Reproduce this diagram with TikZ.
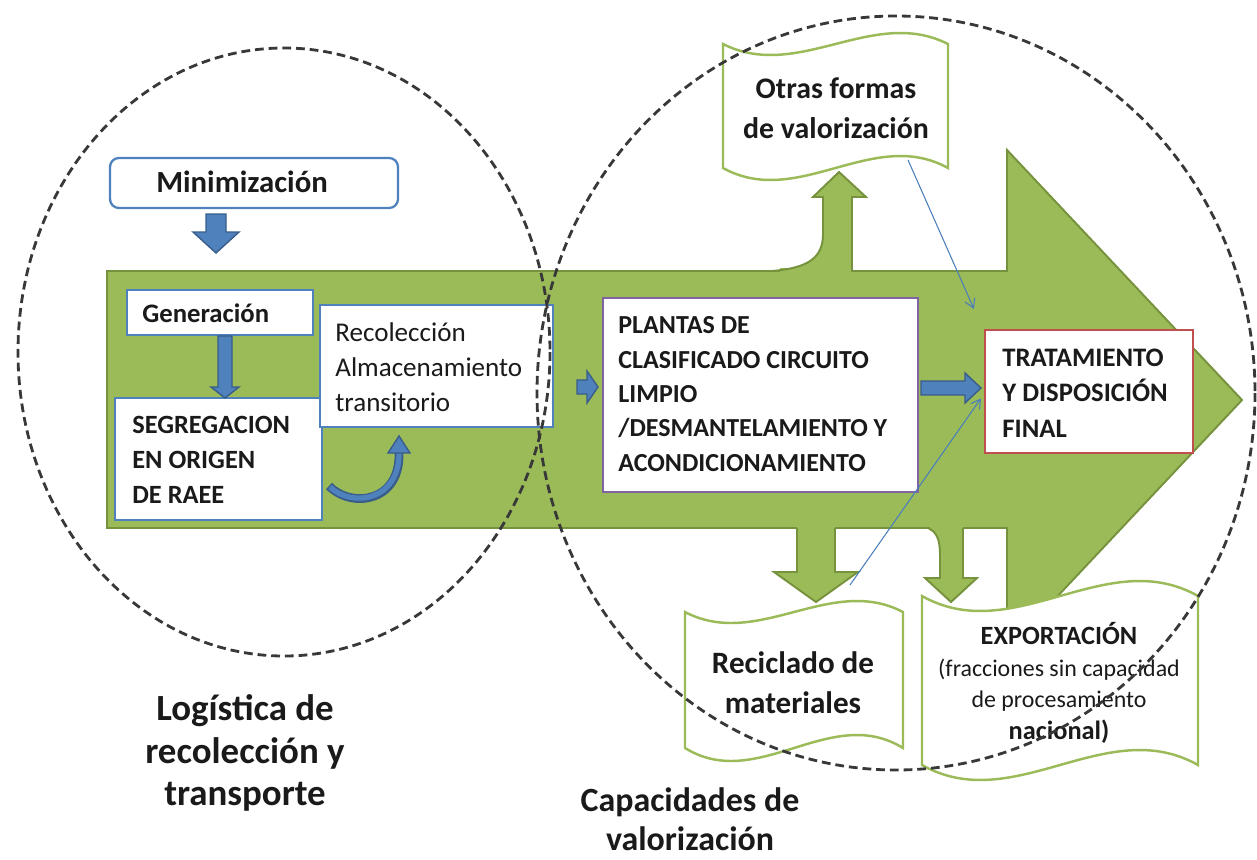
\documentclass[tikz,border=0pt]{standalone}
\usepackage{fontspec}
\setmainfont{Carlito}
\usetikzlibrary{arrows.meta,calc}
\definecolor{grn}{HTML}{9BBB59}
\definecolor{grnd}{HTML}{76923C}
\definecolor{blu}{HTML}{4F81BD}
\definecolor{blud}{HTML}{385D8A}
\definecolor{purp}{HTML}{8064A2}
\definecolor{redb}{HTML}{C0504D}
\definecolor{dashc}{HTML}{383838}
\definecolor{thinb}{HTML}{4A7EBB}
\definecolor{txtc}{HTML}{1A1A1A}
\newcommand\scrollshape[6]{%
  \filldraw[scrollst] (#1,#3) .. controls ({#1+(#2-#1)/3},{#3+3.46*#4}) and ({#1+2*(#2-#1)/3},{#3-3.46*#4}) .. (#2,#3) -- (#2,#5) .. controls ({#1+2*(#2-#1)/3},{#5-3.46*#6}) and ({#1+(#2-#1)/3},{#5+3.46*#6}) .. (#1,#5) -- cycle;}
\newcommand\rblock[6]{\filldraw[bluearrow] (#1,{#4-#5}) -- (#2,{#4-#5}) -- (#2,{#4-#6}) -- (#3,#4) -- (#2,{#4+#6}) -- (#2,{#4+#5}) -- (#1,{#4+#5}) -- cycle;}
\newcommand\dblock[6]{\filldraw[bluearrow] ({#1-#5},#2) -- ({#1-#5},#3) -- ({#1-#6},#3) -- (#1,#4) -- ({#1+#6},#3) -- ({#1+#5},#3) -- ({#1+#5},#2) -- cycle;}
\newcommand\gdown[6]{%
  \fill[grn] ({#1-#5},{#2-3}) rectangle ({#1+#5},{#2+3});
  \filldraw[garrow] ({#1-#5},#2) -- ({#1-#5},#3) -- ({#1-#6},#3) -- (#1,#4) -- ({#1+#6},#3) -- ({#1+#5},#3) -- ({#1+#5},#2);}
\tikzset{
  garrow/.style={fill=grn, draw=grnd, line width=1.1pt, line join=miter},
  bluearrow/.style={fill=blu, draw=blud, line width=0.8pt, line join=miter},
  scrollst/.style={fill=white, draw=grn, line width=1.4pt},
  boxst/.style={fill=white, line width=1.3pt, inner sep=0pt},
  circ/.style={draw=dashc, line width=1.6pt, dash pattern=on 5pt off 2.8pt},
  thinar/.style={draw=thinb, line width=0.6pt, -{Straight Barb[length=5pt,width=6pt]}},
  txt/.style={inner sep=0pt, align=left, text=txtc},
  ctxt/.style={inner sep=0pt, align=center, text=txtc}
}
\begin{document}
\begin{tikzpicture}[x=0.02cm,y=-0.02cm]
\useasboundingbox (0,0) rectangle (1257,859);

% big green arrow
\filldraw[garrow] (107,271) -- (1007,271) -- (1007,150) -- (1242,400) -- (1007,650) -- (1007,528) -- (107,528) -- cycle;

% green side arrows
\fill[grn] (780,268) rectangle (851,274);
\filldraw[garrow] (772,271) .. controls (808,268) and (823,258) .. (823,234) -- (823,197) -- (813,197) -- (839,172) -- (866,197) -- (852,197) -- (852,271);
\gdown{816}{528}{572}{602}{19}{42}
\fill[grn] (930,525) rectangle (963,531);
\filldraw[garrow] (928,528) .. controls (937,532) and (940,540) .. (940,555) -- (940,578) -- (925,578) -- (951,602) -- (977,578) -- (963,578) -- (963,528);

% boxes
\node[boxst, draw=blu, rounded corners=5pt, minimum width=5.76cm, minimum height=1cm] (mini) at (254,183) {};
\node[boxst, draw=blu, minimum width=3.72cm, minimum height=0.9cm] (gen) at (220,312.5) {};
\node[boxst, draw=blu, minimum width=4.14cm, minimum height=2.44cm] (seg) at (218.5,459) {};
\node[boxst, draw=blu, minimum width=4.66cm, minimum height=2.44cm] (rec) at (436.5,366) {};
\node[boxst, draw=purp, minimum width=6.3cm, minimum height=3.88cm] (pla) at (760.5,395) {};
\node[boxst, draw=redb, minimum width=4.16cm, minimum height=2.46cm] (tra) at (1089,391.5) {};

% blue arrows
\dblock{216}{214}{232}{253}{10}{23}
\dblock{225}{336}{387}{398}{7}{14}
\rblock{577}{587}{598}{387}{7}{16}
\rblock{921}{965}{981}{388}{7}{15}
\draw[blud, line width=5pt] (329,486) .. controls (352,509) and (401,502) .. (399,452);
\draw[blu, line width=3pt] (330,487) .. controls (352,508) and (400,501) .. (399,452);
\filldraw[bluearrow] (399,436) -- (410,453) -- (388,453) -- cycle;

% scrolls
\scrollshape{723}{948}{44}{11}{168}{12}
\scrollshape{685}{903}{612}{11}{748}{13}
\scrollshape{922}{1198}{596}{15}{765}{15}

% texts
\node[ctxt, font=\bfseries\fontsize{17.5}{21}\selectfont] (miniT) at (242,182) {Minimización};
\node[txt, anchor=west, font=\bfseries\fontsize{15.2}{19.8}\selectfont] (genT) at (142,313) {Generación};
\node[txt, anchor=west, font=\bfseries\fontsize{15}{19.8}\selectfont] (segT) at (132,460) {SEGREGACION\\EN ORIGEN\\DE RAEE};
\node[txt, anchor=west, font=\fontsize{15.4}{19.8}\selectfont] (recT) at (335,367) {Recolección\\Almacenamiento\\transitorio};
\node[txt, anchor=west, font=\bfseries\fontsize{14.8}{19.6}\selectfont] (plaT) at (618,394) {PLANTAS DE\\CLASIFICADO CIRCUITO\\LIMPIO\\/DESMANTELAMIENTO Y\\ACONDICIONAMIENTO};
\node[txt, anchor=west, font=\bfseries\fontsize{15.2}{20.2}\selectfont] (traT) at (1002,393) {TRATAMIENTO\\Y DISPOSICIÓN\\FINAL};
\node[ctxt, font=\bfseries\fontsize{17}{22.7}\selectfont] (otrT) at (836,108) {Otras formas\\de valorización};
\node[ctxt, font=\bfseries\fontsize{17.7}{22.7}\selectfont] (recicT) at (793,683) {Reciclado de\\materiales};
\node[ctxt, font=\fontsize{13.6}{18}\selectfont] (expT) at (1059,683) {{\bfseries\fontsize{15}{18}\selectfont EXPORTACIÓN}\\(fracciones sin capacidad\\de procesamiento\\{\bfseries\fontsize{15}{18}\selectfont nacional)}};
\node[ctxt, font=\bfseries\fontsize{21}{24}\selectfont] (logT) at (245,753) {Logística de\\recolección y\\transporte};
\node[ctxt, font=\bfseries\fontsize{19.3}{22.5}\selectfont] (capT) at (690,819) {Capacidades de\\valorización};

% thin connectors
\coordinate (o1) at (908,160);
\coordinate (t1) at ($(tra.north west)+(-10,-20)$);
\draw[thinar] (o1) -- (t1);
\coordinate (r1) at (850,585);
\coordinate (t2) at ($(tra.west)+(-3,7)$);
\draw[thinar] (r1) -- (t2);

% dashed circles
\draw[circ] (284,352) ellipse [x radius=266, y radius=304];
\draw[circ] (896,393) ellipse [x radius=359, y radius=377];
\end{tikzpicture}
\end{document}
